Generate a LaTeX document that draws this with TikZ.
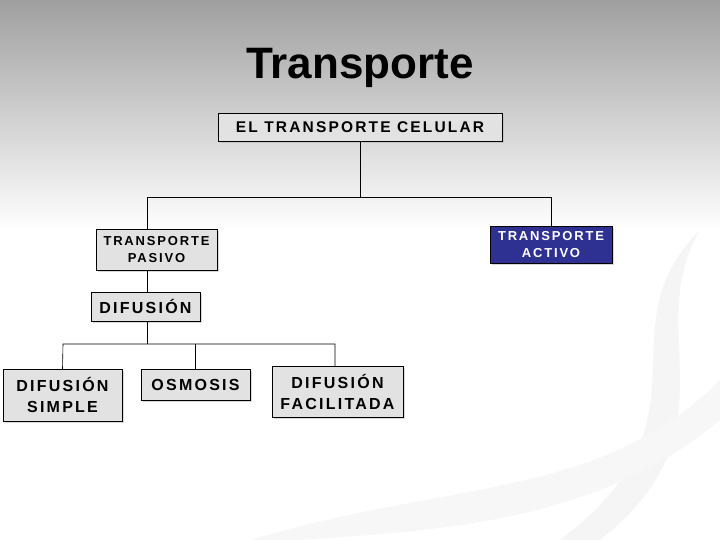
\documentclass[tikz,border=0pt]{standalone}
\usepackage{fontspec}
\setmainfont{Liberation Sans}
\newfontfamily\spaced[LetterSpace=14]{Liberation Sans}
\usetikzlibrary{shadows}
\definecolor{boxgray}{HTML}{E2E2E2}
\definecolor{activo}{HTML}{2E3192}
\begin{document}
\begin{tikzpicture}[x=1pt,y=-1pt,
  box/.style={draw=black,fill=boxgray,align=center,inner sep=0pt,drop shadow={shadow xshift=2pt,shadow yshift=-2pt,fill=gray!60}},
  conn/.style={draw=black,line width=0.6pt}]
\useasboundingbox (0,0) rectangle (720,540);
\shade[top color=gray!75,bottom color=white] (0,0) rectangle (720,230);
\fill[white] (0,230) rectangle (720,540);
% decorative swooshes
\fill[gray!8] (560,540) .. controls (720,420) and (600,330) .. (700,230) .. controls (640,330) and (740,430) .. (600,540) -- cycle;
\fill[gray!6] (250,540) .. controls (450,480) and (600,500) .. (720,380) -- (720,420) .. controls (600,520) and (450,530) .. (300,540) -- cycle;
\node[font=\bfseries\fontsize{44}{50}\selectfont] (title) at (360,68) {Transporte};
\node[box,minimum width=284pt,minimum height=28pt,font=\spaced\bfseries\fontsize{15.5}{18}\selectfont] (cel) at (360,127) {EL TRANSPORTE CELULAR};
\node[box,minimum width=121pt,minimum height=41pt,font=\spaced\bfseries\fontsize{13}{17}\selectfont] (pas) at (156.5,249.5) {TRANSPORTE\\PASIVO};
\node[box,fill=activo,text=white,minimum width=122pt,minimum height=37pt,font=\spaced\bfseries\fontsize{13}{17}\selectfont] (act) at (551,244.5) {TRANSPORTE\\ACTIVO};
\node[box,minimum width=109pt,minimum height=29pt,font=\spaced\bfseries\fontsize{16}{19}\selectfont] (dif) at (145.5,306.5) {DIFUSIÓN};
\node[box,minimum width=119pt,minimum height=52pt,font=\spaced\bfseries\fontsize{16}{21}\selectfont] (sim) at (62.5,395) {DIFUSIÓN\\SIMPLE};
\node[box,minimum width=109pt,minimum height=31pt,font=\spaced\bfseries\fontsize{16}{19}\selectfont] (osm) at (195.5,384.5) {OSMOSIS};
\node[box,minimum width=131pt,minimum height=51pt,font=\spaced\bfseries\fontsize{16}{21}\selectfont] (fac) at (337.5,391.5) {DIFUSIÓN\\FACILITADA};
\coordinate (j1) at (360,197);
\coordinate (j2) at (147,344);
\draw[conn] (cel.south) -- (j1);
\draw[conn] (pas.north -| 147,0) -- (147,197) -- (551,197) -- (act.north);
\draw[conn] (pas.south -| 147,0) -- (dif.north -| 147,0);
\draw[conn] (dif.south -| 147,0) -- (j2);
\draw[conn] (sim.north) -- (63,344) -- (335,344) -- (fac.north -| 335,0);
\draw[conn] (osm.north) -- (195.5,344);
\end{tikzpicture}
\end{document}
